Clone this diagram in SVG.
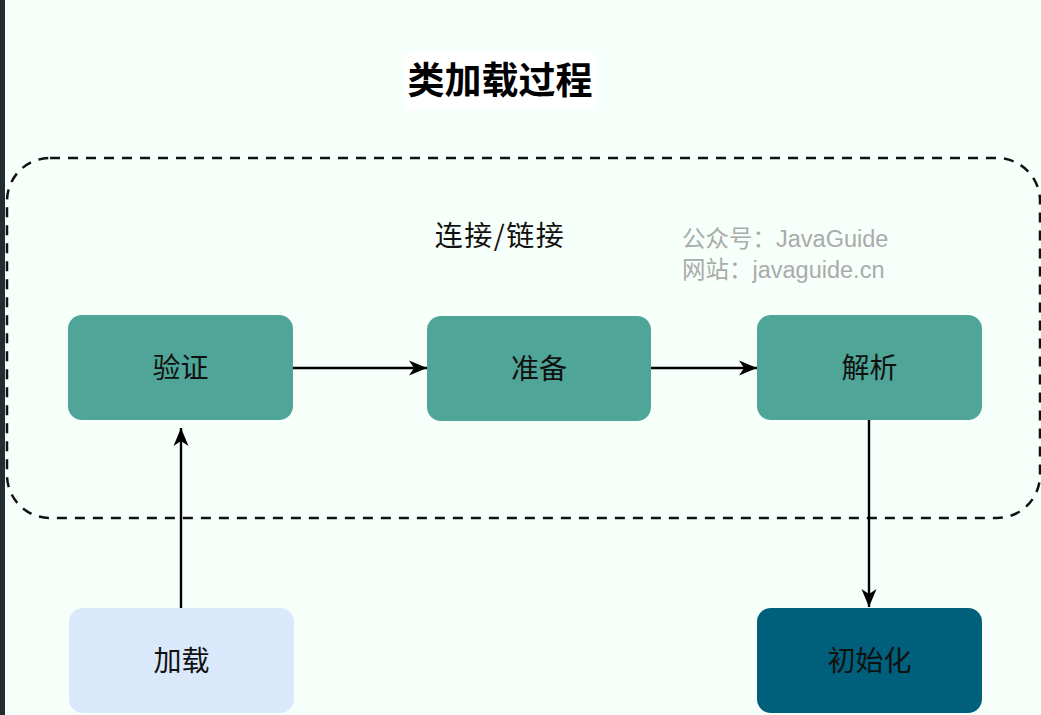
<svg xmlns="http://www.w3.org/2000/svg" width="1041" height="715" viewBox="0 0 1041 715">
<style>
.cjk{font-family:"Noto Sans CJK SC","Liberation Sans",sans-serif;}
.lbl{font-size:28px;fill:#111;text-anchor:middle;}
.node{stroke:none;}
.teal{fill:#4fa597;}
.conn{fill:none;stroke:#000;stroke-width:2.4;}
.wm{font-family:"Liberation Sans","Noto Sans CJK SC",sans-serif;font-size:23.5px;fill:#ababab;}
</style>
<defs>
<marker id="arr" markerUnits="userSpaceOnUse" viewBox="0 0 18 17" refX="18" refY="8.5" markerWidth="18" markerHeight="17" orient="auto">
<path d="M0,1 L18,8.5 L0,16 L5,8.5 z" fill="#000"/>
</marker>
</defs>
<rect x="0" y="0" width="1041" height="715" fill="#f6fff9"/>
<rect x="0" y="0" width="5" height="715" fill="#222c33"/>
<g id="title">
<rect x="405" y="53" width="191" height="57" fill="#ffffff"/>
<text x="500" y="94" class="cjk" font-size="37" font-weight="bold" text-anchor="middle" fill="#000">类加载过程</text>
</g>
<g id="link-group">
<rect x="7" y="158" width="1033" height="360" rx="43" ry="43" fill="none" stroke="#111" stroke-width="2.5" stroke-dasharray="10 8"/>
<text x="500" y="246" class="cjk" font-size="28" letter-spacing="1.5" text-anchor="middle" fill="#111">连接/链接</text>
</g>
<g id="watermark">
<text x="682" y="247" class="wm">公众号：JavaGuide</text>
<text x="682" y="278" class="wm">网站：javaguide.cn</text>
</g>
<g id="connectors">
<path class="conn" d="M293,368 L427,368" marker-end="url(#arr)"/>
<path class="conn" d="M651,368 L757,368" marker-end="url(#arr)"/>
<path class="conn" d="M869,420 L869,607" marker-end="url(#arr)"/>
<path class="conn" d="M181,608 L181,428" marker-end="url(#arr)"/>
</g>
<g id="node-verify">
<rect class="node teal" x="68" y="315" width="225" height="105" rx="14"/>
<text x="180.5" y="378" class="cjk lbl">验证</text>
</g>
<g id="node-prepare">
<rect class="node teal" x="427" y="316" width="224" height="105" rx="14"/>
<text x="539" y="379" class="cjk lbl">准备</text>
</g>
<g id="node-resolve">
<rect class="node teal" x="757" y="315" width="225" height="105" rx="14"/>
<text x="869.5" y="378" class="cjk lbl">解析</text>
</g>
<g id="node-load">
<rect class="node" x="69" y="608" width="225" height="105" rx="14" fill="#dae8fc"/>
<text x="181.5" y="671" class="cjk lbl">加载</text>
</g>
<g id="node-init">
<rect class="node" x="757" y="608" width="225" height="105" rx="14" fill="#005f7a"/>
<text x="869.5" y="671" class="cjk lbl">初始化</text>
</g>
</svg>
